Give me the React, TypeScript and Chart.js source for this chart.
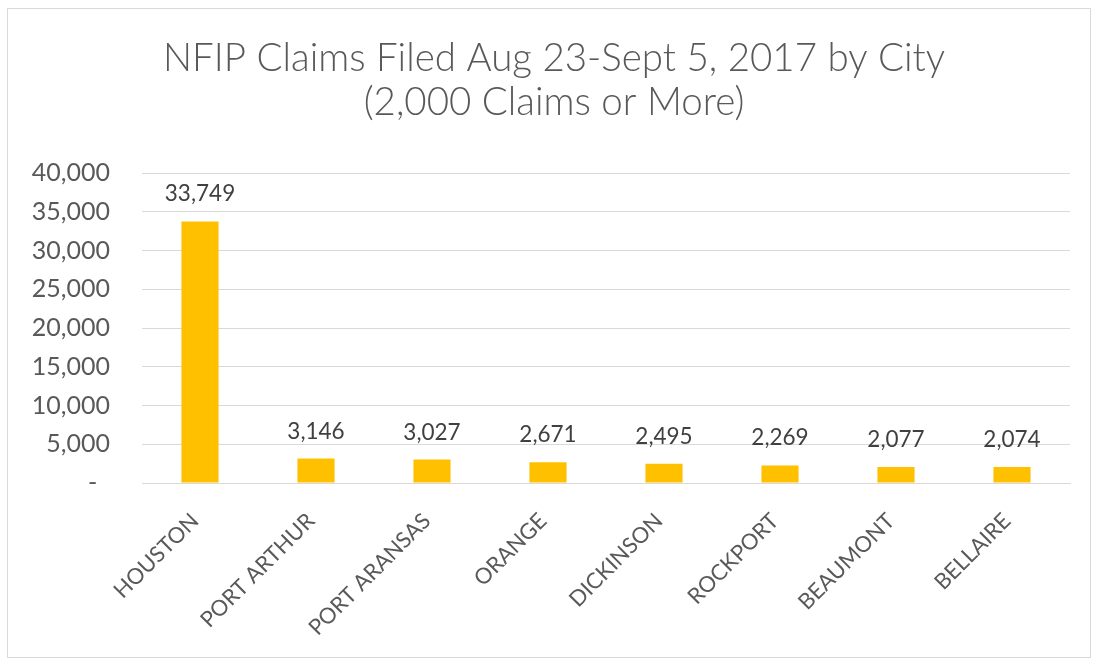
import React, { useEffect, useRef } from "react";
import { Chart, registerables } from "chart.js";

Chart.register(...registerables);

const cities: string[] = [
  "HOUSTON",
  "PORT ARTHUR",
  "PORT ARANSAS",
  "ORANGE",
  "DICKINSON",
  "ROCKPORT",
  "BEAUMONT",
  "BELLAIRE",
];
const claims: number[] = [33749, 3146, 3027, 2671, 2495, 2269, 2077, 2074];
const titleLines: string[] = [
  "NFIP Claims Filed Aug 23-Sept 5, 2017 by City",
  "(2,000 Claims or More)",
];
const yMin = 0;
const yMax = 40000;
const yStep = 5000;

const FONT = "Lato, 'Open Sans', sans-serif";

const fmt = (v: number) => v.toLocaleString("en-US");

const dataLabels = {
  id: "dataLabels",
  afterDatasetsDraw(chart: any) {
    const ctx = chart.ctx;
    const meta = chart.getDatasetMeta(0);
    ctx.save();
    ctx.font = `22.5px ${FONT}`;
    ctx.fillStyle = "#404040";
    ctx.textAlign = "center";
    ctx.textBaseline = "alphabetic";
    meta.data.forEach((bar: any, i: number) => {
      const v = chart.data.datasets[0].data[i] as number;
      ctx.fillText(fmt(v), bar.x, bar.y - 20);
    });
    ctx.restore();
  },
};

// Excel centres the title slightly right of the canvas centre
const titleShift = {
  id: "titleShift",
  afterLayout(chart: any) {
    const t = chart.titleBlock;
    if (t) {
      t.left += 19;
      t.right += 19;
    }
  },
};

export default function App() {
  const ref = useRef<HTMLCanvasElement | null>(null);

  useEffect(() => {
    if (!ref.current) return;
    const chart = new Chart(ref.current, {
      type: "bar",
      data: {
        labels: cities,
        datasets: [
          {
            data: claims,
            backgroundColor: "#FFC000",
            borderWidth: 0,
            categoryPercentage: 1,
            barPercentage: 0.32,
          },
        ],
      },
      options: {
        responsive: false,
        animation: false,
        devicePixelRatio: 1,
        layout: { padding: { left: 0, right: 24, top: 0, bottom: 0 } },
        plugins: {
          legend: { display: false },
          tooltip: { enabled: false },
          title: {
            display: true,
            text: titleLines,
            color: "#595959",
            font: { family: FONT, size: 38.5, weight: 300, lineHeight: 1.13 },
            padding: { top: 37, bottom: 49 },
          },
        },
        scales: {
          x: {
            grid: { display: false, drawTicks: false },
            border: { display: true, color: "#d9d9d9", width: 1 },
            ticks: {
              color: "#595959",
              font: { family: FONT, size: 22 },
              maxRotation: 45,
              minRotation: 45,
              padding: 25,
              labelOffset: -5,
              autoSkip: false,
            },
            afterFit(scale: any) {
              scale.height = 179;
            },
          },
          y: {
            min: yMin,
            max: yMax,
            grid: { color: "#d9d9d9", lineWidth: 1, drawTicks: false },
            border: { display: false },
            ticks: {
              stepSize: yStep,
              color: "#595959",
              font: { family: FONT, size: 25 },
              padding: 32,
              callback: (v: any) => (Number(v) === 0 ? "-  " : fmt(Number(v))),
            },
            afterFit(scale: any) {
              scale.width = 142;
            },
          },
        },
      },
      plugins: [dataLabels, titleShift],
    });
    return () => chart.destroy();
  }, []);

  return (
    <div style={{ position: "fixed", left: 0, top: 0, width: 1094, height: 662, background: "#fff" }}>
      <div
        style={{
          position: "absolute",
          left: 7,
          top: 8,
          width: 1082,
          height: 648,
          border: "1px solid #d9d9d9",
        }}
      />
      <canvas ref={ref} width={1094} height={662} style={{ position: "absolute", left: 0, top: 0 }} />
    </div>
  );
}
